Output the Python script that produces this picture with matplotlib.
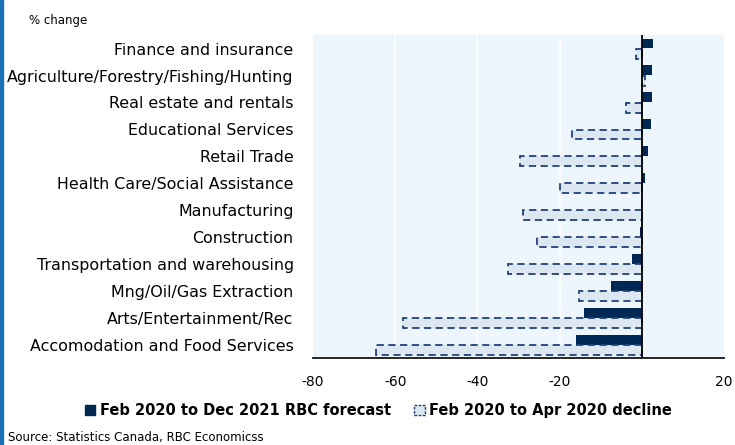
import matplotlib.pyplot as plt
from matplotlib.patches import Patch, Rectangle

# Data (% change)

industries = ["Finance and insurance",
              "Agriculture/Forestry/Fishing/Hunting",
              "Real estate and rentals",
              "Educational Services",
              "Retail Trade",
              "Health Care/Social Assistance",
              "Manufacturing",
              "Construction",
              "Transportation and warehousing",
              "Mng/Oil/Gas Extraction",
              "Arts/Entertainment/Rec",
              "Accomodation and Food Services"]
forecast = [2.8, 2.6, 2.6, 2.3, 1.6, 0.8, -0.2, -0.5, -2.3, -7.6, -14.1, -15.9]
decline = [-1.4, 0.9, -3.9, -16.9, -29.6, -20.0, -29.0, -25.4, -32.6, -15.3,
           -58.2, -64.6]
xticks = [-80, -60, -40, -20, 0, 20]
xticklabels = ["-80", "-60", "-40", "-20", "", "20"]

navy = "#002855"
edge = "#23407a"
light = "#dce7f2"
bg = "#eef6fd"

plt.rcParams['font.family'] = ['DejaVu Sans']

fig = plt.figure(figsize=(7.35, 4.45), dpi=100)
ax = fig.add_axes([0.426, 0.195, 0.559, 0.726])
ax.set_facecolor(bg)

ypos = list(range(len(industries)))
h = 0.37
ax.barh([y - 0.19 for y in ypos], forecast, height=h, color=navy, zorder=3)
ax.barh([y + 0.19 for y in ypos], decline, height=h, color=light,
        edgecolor=edge, linestyle=(0, (4, 2.5)), linewidth=1.3, zorder=3)

ax.set_xlim(-80, 20)
ax.set_ylim(len(industries) - 0.5, -0.5)
ax.set_xticks(xticks)
ax.set_xticklabels(xticklabels)
ax.set_yticks(ypos)
ax.set_yticklabels(industries)
ax.tick_params(axis='y', length=0, pad=14, labelsize=11.4)
ax.tick_params(axis='x', length=0, pad=12, labelsize=10)

for x in [-60, -40, -20]:
    ax.axvline(x, color="white", linewidth=1.2, zorder=1)
ax.axvline(0, color="black", linewidth=1.3, zorder=4)

for s in ["top", "right", "left"]:
    ax.spines[s].set_visible(False)
ax.spines["bottom"].set_color("black")
ax.spines["bottom"].set_linewidth(1.2)

handles = [Patch(facecolor=navy, edgecolor=navy),
           Patch(facecolor=light, edgecolor=edge, linestyle=(0, (2, 1)),
                 linewidth=1)]
labels = ["Feb 2020 to Dec 2021 RBC forecast", "Feb 2020 to Apr 2020 decline"]
fig.legend(handles, labels, loc="center", bbox_to_anchor=(0.515, 0.077),
           ncol=2, frameon=False, handlelength=0.7, handleheight=0.7,
           handletextpad=0.3, columnspacing=1.6,
           prop={'weight': 'bold', 'size': 10.5})

fig.text(0.04, 0.955, "% change", fontsize=8.5, va="center")
fig.text(0.011, 0.017, "Source: Statistics Canada, RBC Economicss",
         fontsize=8.5, va="center")

# blue slide edge on the left
fig.patches.append(Rectangle((0, 0), 0.004, 1, transform=fig.transFigure,
                             color="#1a72b5", zorder=0))

fig.savefig("out.png", dpi=100)
